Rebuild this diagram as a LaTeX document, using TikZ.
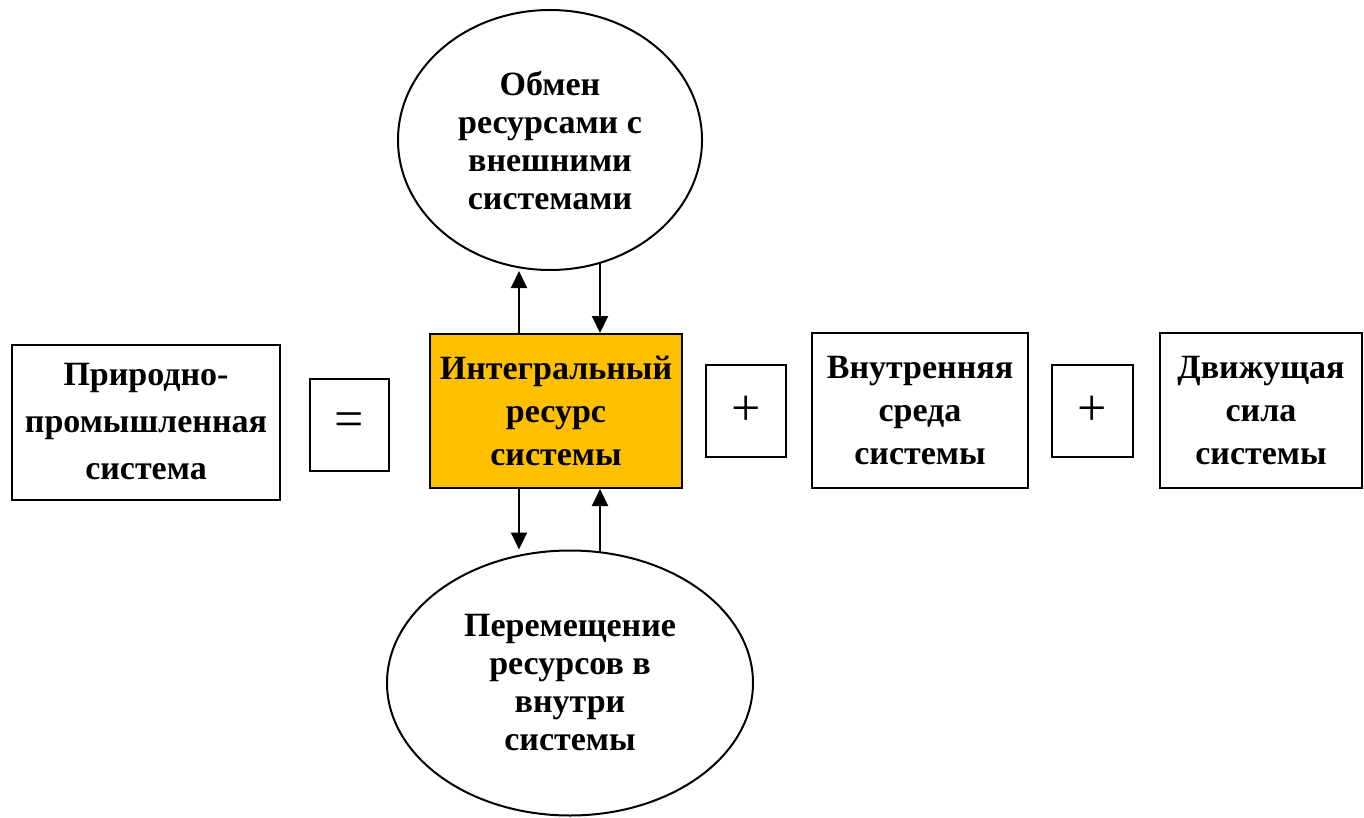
\documentclass[tikz,border=0pt]{standalone}
\usepackage{fontspec}
\setmainfont{Liberation Serif}
\usetikzlibrary{shapes.geometric,arrows.meta,backgrounds}
\definecolor{gold}{HTML}{FFC000}
\tikzset{
 box/.style={draw=black, line width=2pt, inner sep=0pt, align=center, font=\bfseries\fontsize{34}{43}\selectfont},
 ell/.style={ellipse, draw=black, fill=white, line width=2pt, inner sep=0pt, align=center, font=\bfseries\fontsize{34}{38}\selectfont},
 opbox/.style={draw=black, line width=2pt, inner sep=0pt, font=\fontsize{52}{52}\selectfont},
 arr/.style={line width=2pt, -{Triangle[length=17pt,width=16pt]}}
}
\begin{document}
\begin{tikzpicture}[x=1pt,y=-1pt]
\useasboundingbox (0,0) rectangle (1364,818);
\node[ell, minimum width=304pt, minimum height=260pt] (ext) at (550,140) {Обмен\\ресурсами с\\внешними\\системами};
\node[ell, minimum width=366pt, minimum height=265pt] (mov) at (570,683) {Перемещение\\ресурсов в\\внутри\\системы};
\node[box, font=\bfseries\fontsize{34}{47}\selectfont, minimum width=268pt, minimum height=155pt] (nat) at (146,422) {Природно-\\промышленная\\система};
\node[opbox, minimum width=79pt, minimum height=92pt] (eq) at (349.5,425) {=};
\node[box, fill=gold, minimum width=252pt, minimum height=154pt] (yel) at (556,411) {Интегральный\\ресурс\\системы};
\node[opbox, minimum width=80pt, minimum height=92pt] (plus1) at (746,411) {+};
\node[box, minimum width=216pt, minimum height=155pt] (inner) at (920,410.5) {Внутренняя\\среда\\системы};
\node[opbox, minimum width=81pt, minimum height=92pt] (plus2) at (1092.5,411) {+};
\node[box, minimum width=202pt, minimum height=155pt] (drive) at (1261,410.5) {Движущая\\сила\\системы};
\coordinate (xa) at (519,0);
\coordinate (xb) at (600,0);
\begin{pgfonlayer}{background}
\fill[white] (0,0) rectangle (1364,818);
\draw[arr] (yel.north -| xa) -- (ext.south -| xa);
\draw[arr] (ext.center -| xb) -- (yel.north -| xb);
\draw[arr] (yel.south -| xa) -- (mov.north -| xa);
\draw[arr] (mov.center -| xb) -- (yel.south -| xb);
\end{pgfonlayer}
\end{tikzpicture}
\end{document}
